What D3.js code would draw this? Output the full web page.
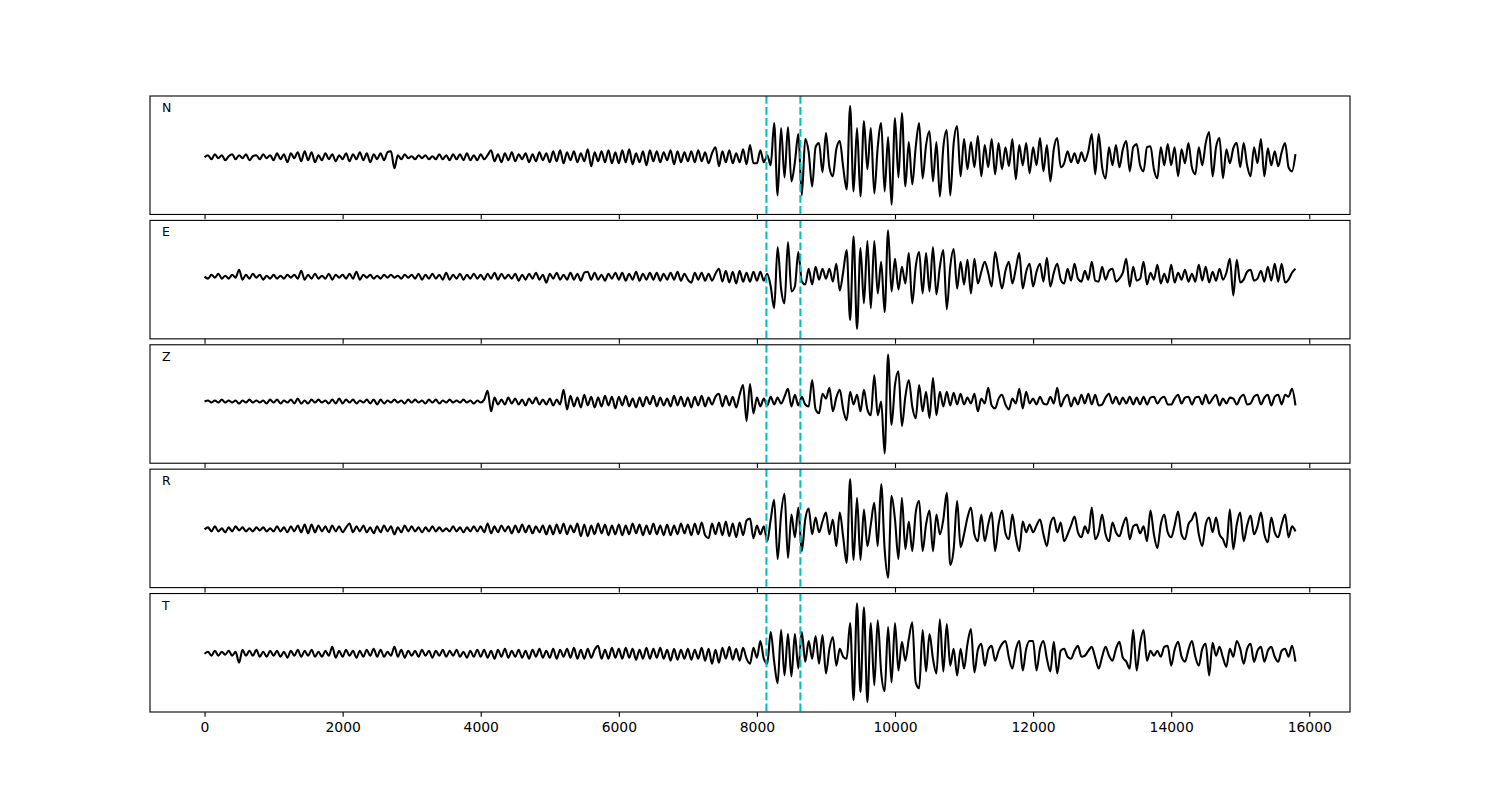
<!DOCTYPE html>
<html>
<head>
<meta charset="utf-8">
<script src="https://cdn.jsdelivr.net/npm/d3@7"></script>
<style>
  body { margin: 0; background: #ffffff; }
  svg { display: block; }
  text { font-family: "DejaVu Sans", sans-serif; }
</style>
</head>
<body>
<svg id="chart" width="1500" height="800"></svg>
<script>
// ---------------- data ----------------
const sampleInterval = 50;          // time units between samples
const components = ["N", "E", "Z", "R", "T"];
const xTickValues = [0, 2000, 4000, 6000, 8000, 10000, 12000, 14000, 16000];
const pickTimes = [8138, 8630];

const traceN = [
  0,2,-2,3,-1,2,-3,1,3,-2,2,-1,3,-3,1,2,-2,3,-1,2,
  -3,4,-2,3,-5,4,-1,5,-4,6,-3,5,-5,2,-3,4,-2,3,-4,2,
  -2,4,-4,3,-2,5,-3,4,-5,3,-2,4,-3,5,6,-11,2,-2,3,-1,
  1,-2,2,-1,2,-2,1,-2,3,-2,2,-3,3,-2,3,-3,4,-3,2,-3,
  3,-2,2,7,-4,3,-5,4,-3,5,-4,3,-2,4,-5,3,-4,5,-3,4,
  -5,6,-4,7,-6,5,-3,6,-5,4,-4,8,-9,5,-4,6,-5,7,-6,5,
  -6,7,-5,8,-7,4,-5,6,-8,7,-4,6,-5,5,-3,7,-7,6,-5,5,
  -4,6,-5,7,-4,5,-6,4,10,-9,6,-5,7,-6,4,-5,8,-7,12,-6,
  -6,7,-5,2,-8,34,-38,29,-20,30,-24,-5,23,-38,18,5,-29,10,14,-15,
  24,-10,-19,8,16,-10,-32,51,-34,29,-39,36,-12,29,-36,10,34,-34,20,-47,
  39,-20,44,-29,15,-27,10,34,-21,12,26,-24,15,-39,10,27,-38,14,31,-19,
  18,-12,15,-10,21,-19,12,-10,18,-17,14,-12,10,-9,18,-22,12,-8,14,-16,
  10,-8,19,-14,12,-24,8,19,-10,-6,6,-5,4,-6,5,-4,6,23,-17,23,
  -10,-21,10,-8,12,-10,8,16,-14,10,13,-8,-14,10,11,-12,-21,10,-8,13,
  -8,10,-19,8,-6,14,-10,-17,10,-8,14,25,-19,10,19,-21,8,-6,9,14,
  -10,14,-8,-19,10,-6,18,-19,9,-8,6,-9,5,14,-10,-14,3
];

const traceE = [
  0,-2,2,-1,3,-2,1,-2,2,-1,7,-3,2,-2,3,-1,2,-3,1,-2,
  2,-2,1,-2,2,-1,2,-2,6,-3,2,-2,3,-2,1,-2,3,-3,2,-1,
  2,-2,3,-2,5,-3,2,-1,2,-2,1,-2,2,-1,2,-1,1,-2,2,-1,
  2,-2,3,-3,2,-2,3,-2,2,-3,4,-3,2,-2,3,-3,2,-2,3,-2,
  2,-3,3,-2,4,-3,3,-2,2,-2,3,-4,2,-3,3,-2,4,-3,2,-6,
  3,-2,4,-3,2,-3,4,-3,3,-4,4,5,-3,4,-3,2,-4,3,-2,4,
  -3,4,-4,3,-3,5,-4,3,-3,4,-3,4,-4,3,-3,4,-3,5,-4,3,
  -3,-6,4,-3,4,-4,3,-4,3,8,-5,6,-6,5,-7,6,-5,4,-5,5,
  -4,5,-4,3,-10,-32,30,-12,-27,35,-15,-10,25,-5,-8,8,-8,10,-3,8,
  -2,8,-5,13,-14,5,27,-44,41,-53,29,-27,36,-32,36,-17,15,-36,47,-15,
  18,-13,10,-7,24,-27,10,25,-17,24,-15,30,-18,10,27,-33,10,28,-12,15,
  -8,17,-17,18,-7,5,15,4,-10,25,6,-12,6,15,-7,8,24,-12,5,13,
  -10,5,13,-5,19,-10,4,13,-3,-7,8,-4,13,-2,-5,6,-3,15,-4,-5,
  10,-3,6,8,-5,-2,4,18,-10,10,-4,-2,15,-8,4,-3,12,-7,3,-6,
  12,-6,4,-3,7,-5,3,-5,12,-4,10,-6,5,-4,8,-3,4,18,-19,17,
  -6,-3,5,7,-4,-2,6,-5,10,-4,13,-5,13,-6,-3,4,8
];

const traceZ = [
  0,1,-1,1,-1,2,-1,1,-1,1,-2,1,-1,2,-1,1,-1,1,-2,2,
  -1,2,-2,1,-1,2,-2,3,-2,1,-2,2,-1,2,-1,1,-2,2,-2,3,
  -2,2,-1,2,-2,1,-1,2,-2,2,-3,2,-2,1,-1,2,-1,1,-2,2,
  -1,2,-1,1,-2,2,-1,2,-2,1,-1,2,-1,1,-1,2,-1,1,-2,1,
  -1,2,11,-10,4,-3,2,-3,4,-2,3,-3,2,-4,3,-2,4,-3,2,-3,
  3,-4,2,-3,12,-8,6,-5,4,-6,7,-4,5,-6,4,-5,6,-4,5,-7,
  5,-4,6,-5,3,-6,4,-5,5,-3,6,-5,4,-4,3,-5,6,-4,5,-5,
  4,-6,5,-4,6,-5,4,-3,5,8,-5,6,-4,5,-6,7,17,-20,18,-12,
  4,-5,3,-4,5,-3,4,-2,5,13,-5,7,-4,5,-3,-5,22,-8,-12,8,
  3,14,-10,4,12,-8,-19,10,-3,7,-10,12,-8,-14,27,-14,0,-53,48,-24,
  17,31,-25,5,22,-5,-17,17,-10,10,-17,24,-14,10,-5,10,-4,9,-3,8,
  -3,4,-2,8,-10,3,-2,14,-4,-7,3,7,-3,-8,3,-2,13,-7,10,-2,
  3,-3,5,-2,-3,5,-2,14,-5,3,7,-5,4,-3,7,-2,8,-3,7,-4,
  -3,4,8,-2,5,-3,4,-2,5,-3,4,-3,5,-3,4,5,-2,3,5,-3,
  -3,3,7,-2,4,5,-3,4,5,-3,7,-2,3,7,-4,3,-2,4,3,-3,
  4,7,-3,-2,5,7,-3,4,7,-4,5,7,-3,7,5,13,-4
];

const traceR = [
  0,2,-2,3,-2,1,-3,2,-2,3,-1,2,-2,1,-2,2,-1,2,-2,1,
  -2,3,-2,2,-3,3,-2,4,-3,5,-4,5,-3,4,-2,3,-3,4,-2,3,
  -3,2,6,-3,3,-2,4,-3,2,-4,3,-3,4,-2,3,-5,2,-3,4,-2,
  3,-2,2,-3,2,-2,3,-2,2,-2,1,-2,3,-2,2,-3,2,-2,3,-2,
  3,-3,6,-4,3,-3,4,-2,3,-4,4,-3,5,-3,4,-4,3,-3,4,-5,
  4,-5,5,-4,6,-5,4,-3,6,-7,5,-7,4,-5,6,-4,5,-6,4,-5,
  5,-6,4,-5,6,-4,5,-6,4,-5,6,-5,4,-6,5,-6,4,-5,6,-4,
  5,-6,6,-5,7,-6,-9,6,-5,7,-6,8,-7,6,-8,7,-6,9,11,-9,
  4,-5,3,-12,10,30,-30,15,36,-29,15,-8,22,-22,10,21,-5,12,-3,8,
  17,-5,10,-17,17,-8,-34,51,-31,32,-31,20,-17,5,27,-17,46,-20,-49,34,
  10,-30,32,-20,8,-22,17,29,-22,5,19,-22,15,-5,10,37,-36,-20,29,-18,
  -5,12,22,-5,-12,15,-12,5,17,-22,5,19,-4,-10,15,-8,-22,8,-3,5,
  -3,4,10,-5,-17,5,12,-3,7,-12,-5,4,13,-3,-8,3,-4,22,-10,-3,
  15,-5,-12,7,-3,-7,4,12,-10,3,5,-4,3,-12,19,-5,-19,5,15,-3,
  -8,4,18,-5,-10,5,10,17,-5,-17,5,12,-3,12,-5,-10,-18,20,-20,5,
  17,-12,4,14,-5,3,17,-5,-13,12,-3,-8,5,15,-8,3,-2
];

const traceT = [
  0,2,-2,3,-2,2,-1,3,-2,2,-9,4,-2,3,-2,4,-3,2,-3,3,
  -2,3,-3,2,-4,3,-2,4,-3,3,-2,4,-3,2,-3,3,-2,7,-4,3,
  -3,4,-2,3,-4,3,-3,4,-2,5,-3,4,-3,2,-2,7,-3,4,-4,3,
  -2,3,-3,4,-2,3,-4,3,-2,4,-3,3,-2,4,-3,2,-4,3,-3,4,
  -3,4,-4,3,-5,4,-3,5,-4,3,-3,4,-4,3,-5,4,-3,5,-4,3,
  -4,5,-5,4,-3,5,-4,6,-5,4,-5,5,-4,4,8,-5,4,-5,6,-4,
  5,-5,6,-4,5,-6,4,-5,6,-5,5,-4,6,-5,4,-7,5,-6,4,-5,
  5,-6,4,-5,6,-7,5,-10,4,-9,6,-5,7,-6,5,-7,6,-5,-10,6,
  -4,13,-5,-10,22,-8,-30,24,-22,20,-23,20,-15,22,-8,13,-5,18,-10,19,
  -20,5,17,-12,5,-3,-5,31,-47,51,-39,47,-49,31,-32,34,-19,-38,27,-29,
  31,-17,12,-7,15,32,-29,-35,24,-18,20,-5,-20,35,-18,30,-12,5,-22,5,
  -15,10,25,-19,4,10,-12,4,8,-7,3,10,13,-4,-15,4,13,-17,5,13,
  13,-17,5,13,-5,-18,12,-20,3,5,-3,-5,3,8,-3,-2,3,7,-4,-15,
  -3,7,-2,-7,5,12,-4,-8,-15,24,-17,10,24,-7,3,-2,3,-3,7,8,
  -12,4,12,-3,-8,4,13,-3,-12,5,10,-22,11,-2,7,-4,-13,5,-3,13,
  5,-10,5,10,-8,3,7,-8,3,7,-3,-8,3,5,-3,8,-8
];

const traces = [traceN, traceE, traceZ, traceR, traceT];

// ---------------- layout ----------------
const figW = 1500, figH = 800;
const axLeft = 150, axRight = 1350;
const axTop = 96, axBottom = 712;
const nPanels = components.length;
const hspace = 0.05;
const panelH = (axBottom - axTop) / (nPanels + (nPanels - 1) * hspace);
const panelGap = panelH * hspace;

const svg = d3.select("#chart");
svg.append("rect").attr("width", figW).attr("height", figH).attr("fill", "#ffffff");

// shared x scale with 5% margins (matplotlib-like autoscale)
const tMax = (traceN.length - 1) * sampleInterval;
const tSpan = tMax - 0;
const x = d3.scaleLinear()
  .domain([0 - 0.05 * tSpan, tMax + 0.05 * tSpan])
  .range([axLeft, axRight]);

const tickLen = 4.86;

traces.forEach((vals, p) => {
  const y0 = axTop + p * (panelH + panelGap);
  const ext = d3.extent(vals);
  const pad = 0.1 * (ext[1] - ext[0]);
  const y = d3.scaleLinear()
    .domain([ext[0] - pad, ext[1] + pad])
    .range([y0 + panelH, y0]);

  const g = svg.append("g");

  const line = d3.line()
    .x((d, i) => x(i * sampleInterval))
    .y(d => y(d))
    .curve(d3.curveMonotoneX);

  g.append("path")
    .datum(vals)
    .attr("d", line)
    .attr("fill", "none")
    .attr("stroke", "#000000")
    .attr("stroke-width", 2.08)
    .attr("stroke-linejoin", "round")
    .attr("stroke-linecap", "butt");

  // pick lines
  g.selectAll("line.pick")
    .data(pickTimes)
    .enter().append("line")
    .attr("class", "pick")
    .attr("x1", d => x(d)).attr("x2", d => x(d))
    .attr("y1", y0).attr("y2", y0 + panelH)
    .attr("stroke", "#00BFBF")
    .attr("stroke-width", 2.08)
    .attr("stroke-dasharray", "7.7,3.3");

  // frame
  g.append("rect")
    .attr("x", axLeft).attr("y", y0)
    .attr("width", axRight - axLeft).attr("height", panelH)
    .attr("fill", "none")
    .attr("stroke", "#000000")
    .attr("stroke-width", 1.1);

  // x axis ticks (labels only on bottom panel)
  const axis = d3.axisBottom(x)
    .tickValues(xTickValues)
    .tickSize(tickLen)
    .tickPadding(5.5)
    .tickFormat(p === nPanels - 1 ? d3.format("d") : () => "");
  const ax = g.append("g")
    .attr("transform", `translate(0,${y0 + panelH})`)
    .call(axis);
  ax.select(".domain").remove();
  ax.selectAll(".tick line").attr("stroke", "#000000").attr("stroke-width", 1.1);
  ax.selectAll(".tick text")
    .attr("fill", "#000000")
    .attr("font-size", "13.9px")
    .attr("font-family", "DejaVu Sans, sans-serif");

  // component label
  g.append("text")
    .attr("x", axLeft + 12)
    .attr("y", y0 + 16)
    .attr("font-size", "12.5px")
    .attr("fill", "#000000")
    .text(components[p]);
});
</script>
</body>
</html>
